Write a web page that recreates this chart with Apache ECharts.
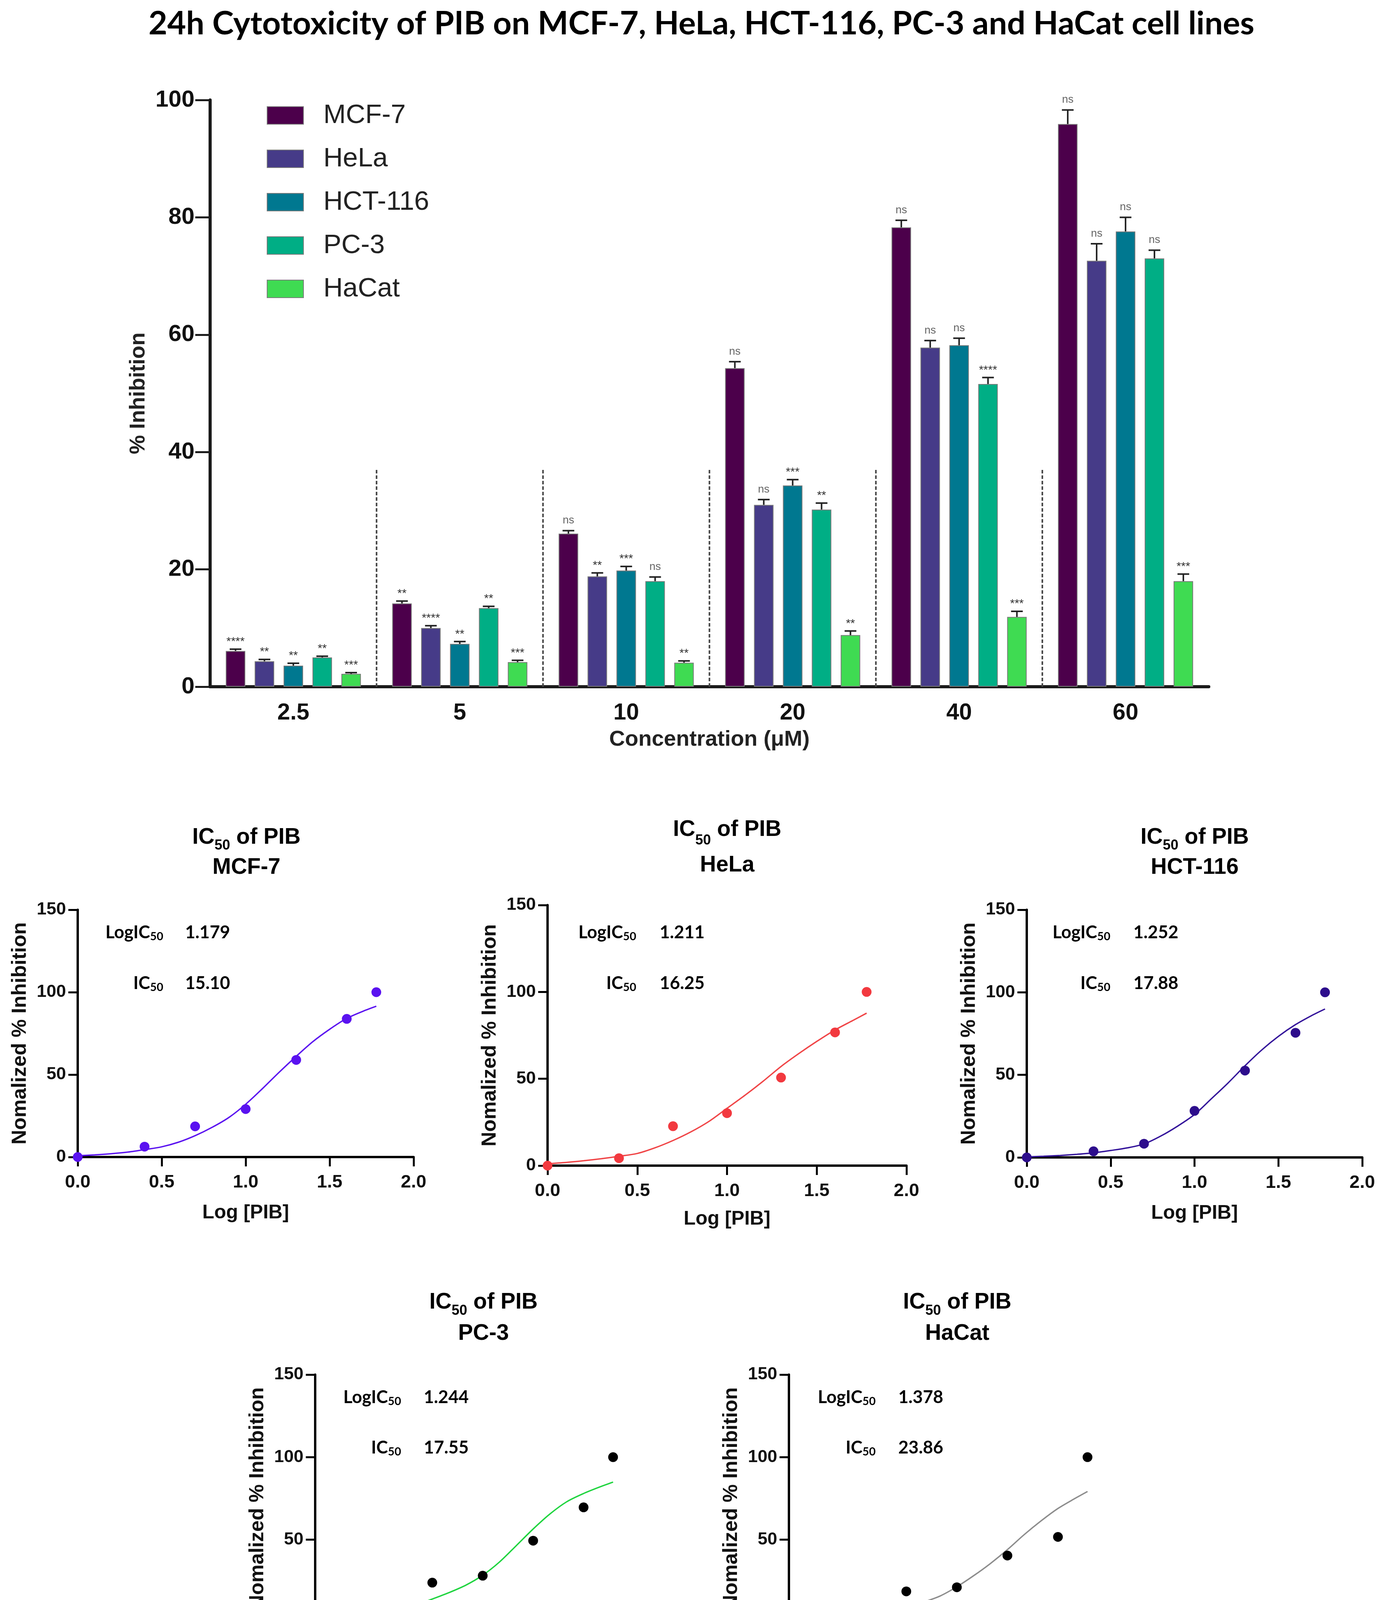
<!DOCTYPE html>
<html>
<head>
<meta charset="utf-8">
<script src="https://cdn.jsdelivr.net/npm/echarts@6/dist/echarts.min.js"></script>
<style>
html,body{margin:0;padding:0;background:#fff;}
#chart{width:3536px;height:4347px;}
</style>
</head>
<body>
<div id="chart"></div>
<script>
// ---------------- DATA ----------------
const categories = ['2.5', '5', '10', '20', '40', '60'];
const cellLines = ['MCF-7', 'HeLa', 'HCT-116', 'PC-3', 'HaCat'];

const mcf7Bars   = [6.1, 14.2, 26.1, 54.3, 78.3, 95.9];
const helaBars   = [4.35, 10.0, 18.8, 31.0, 57.8, 72.6];
const hct116Bars = [3.6, 7.3, 19.8, 34.3, 58.2, 77.6];
const pc3Bars    = [5.0, 13.4, 18.0, 30.2, 51.6, 73.0];
const hacatBars  = [2.2, 4.2, 4.1, 8.8, 11.9, 18.0];

const mcf7Err   = [0.3, 0.4, 0.5, 1.1, 1.2, 2.4];
const helaErr   = [0.3, 0.4, 0.6, 0.9, 1.2, 2.9];
const hct116Err = [0.4, 0.4, 0.7, 1.0, 1.2, 2.4];
const pc3Err    = [0.2, 0.3, 0.7, 1.1, 1.1, 1.4];
const hacatErr  = [0.2, 0.3, 0.3, 0.7, 0.95, 1.2];

const mcf7Sig   = ['****', '**', 'ns', 'ns', 'ns', 'ns'];
const helaSig   = ['**', '****', '**', 'ns', 'ns', 'ns'];
const hct116Sig = ['**', '**', '***', '***', 'ns', 'ns'];
const pc3Sig    = ['**', '**', 'ns', '**', '****', 'ns'];
const hacatSig  = ['***', '***', '**', '**', '***', '***'];

const barYTicks = {min: 0, max: 100, interval: 20};
const separatorPositions = [1, 2, 3, 4, 5];
const separatorTop = 37;

// IC50 panels
const logConc = [0, 0.398, 0.699, 1.0, 1.301, 1.602, 1.778];
const mcf7Norm   = [0, 6.3, 18.6, 29.1, 58.9, 83.8, 100];
const helaNorm   = [0, 4.3, 22.7, 30.2, 50.7, 76.7, 100];
const hct116Norm = [0, 3.7, 8.3, 28.2, 52.6, 75.5, 100];
const pc3Norm    = [0, 5.3, 24.0, 28.2, 49.4, 69.6, 100];
const hacatNorm  = [0, 7.5, 18.7, 21.2, 40.4, 51.7, 100];

const fitX = [0, 0.1, 0.2, 0.3, 0.4, 0.5, 0.6, 0.7, 0.8, 0.9, 1.0, 1.1, 1.2, 1.3, 1.4, 1.5, 1.6, 1.7, 1.778];
const mcf7Fit   = [0.8, 1.3, 2.0, 3.0, 4.5, 6.2, 9.0, 13.0, 18.0, 24.0, 32.0, 41.5, 51.5, 61.0, 70.0, 77.5, 84.0, 88.5, 91.5];
const helaFit   = [1.1, 1.8, 2.8, 4.0, 5.4, 7.0, 10.3, 14.5, 19.5, 25.5, 33.0, 40.5, 48.5, 57.0, 64.5, 71.5, 78.0, 83.5, 87.8];
const hct116Fit = [0.3, 0.7, 1.2, 1.9, 2.8, 4.2, 5.8, 8.2, 13.0, 19.0, 26.0, 35.5, 45.1, 55.4, 65.0, 73.3, 80.3, 86.0, 89.9];
const pc3Fit    = [1.7, 2.4, 3.3, 4.4, 5.8, 7.5, 10.5, 14.1, 18.0, 22.5, 28.5, 36.5, 46.4, 56.4, 65.5, 72.9, 77.9, 82.0, 84.9];
const hacatFit  = [0.5, 0.9, 1.5, 2.3, 3.3, 4.8, 6.7, 9.1, 12.2, 15.9, 21.5, 28.2, 35.6, 43.9, 53.0, 61.3, 68.8, 74.8, 79.2];

const logIC50Text = ['1.179', '1.211', '1.252', '1.244', '1.378'];
const ic50Text    = ['15.10', '16.25', '17.88', '17.55', '23.86'];

const icXTicks = {min: 0, max: 2, interval: 0.5};
const icYTicks = {min: 0, max: 150, interval: 50};

// ---------------- STYLE / LAYOUT ----------------
const SANS = 'Liberation Sans';
const CAL = 'Lato';
const barColors = ['#4c004b', '#463b88', '#007890', '#00ae85', '#3fdb52'];
const BAR_W = 50;
const BAR_GAP = 24;

const barValues = [mcf7Bars, helaBars, hct116Bars, pc3Bars, hacatBars];
const barErrs = [mcf7Err, helaErr, hct116Err, pc3Err, hacatErr];
const barSigs = [mcf7Sig, helaSig, hct116Sig, pc3Sig, hacatSig];

const panels = [
  {name: 'MCF-7', pts: mcf7Norm, fit: mcf7Fit, line: '#5a12f0', dot: '#5a12f0',
   grid: {left: 199, top: 2329, width: 860, height: 633}, titleX: 631, titleY: 2183, titleLH: 77,
   annRight: 418, annVal: 474, annY1: 2387, annY2: 2517, xNameGap: 118},
  {name: 'HeLa', pts: helaNorm, fit: helaFit, line: '#f04446', dot: '#f2393f',
   grid: {left: 1402, top: 2317, width: 919, height: 667}, titleX: 1862, titleY: 2170, titleLH: 91,
   annRight: 1629, annVal: 1689, annY1: 2387, annY2: 2517, xNameGap: 112},
  {name: 'HCT-116', pts: hct116Norm, fit: hct116Fit, line: '#33139a', dot: '#2d0d8c',
   grid: {left: 2629, top: 2329, width: 859, height: 634}, titleX: 3059, titleY: 2183, titleLH: 77,
   annRight: 2843, annVal: 2902, annY1: 2387, annY2: 2517, xNameGap: 118},
  {name: 'PC-3', pts: pc3Norm, fit: pc3Fit, line: '#1ed43e', dot: '#000000',
   grid: {left: 807, top: 3519, width: 858, height: 634}, titleX: 1238, titleY: 3374, titleLH: 80,
   annRight: 1027, annVal: 1085, annY1: 3577, annY2: 3706, xNameGap: 118},
  {name: 'HaCat', pts: hacatNorm, fit: hacatFit, line: '#8c8c8c', dot: '#000000',
   grid: {left: 2020, top: 3519, width: 860, height: 634}, titleX: 2451, titleY: 3374, titleLH: 80,
   annRight: 2242, annVal: 2300, annY1: 3577, annY2: 3706, xNameGap: 118}
];

const grids = [{left: 538, top: 256, width: 2557, height: 1502}];
const xAxes = [
  {type: 'category', gridIndex: 0, data: categories,
   axisLine: {lineStyle: {color: '#1a1a1a', width: 8}},
   axisTick: {alignWithLabel: true, length: 30, lineStyle: {width: 5, color: '#1a1a1a'}},
   axisLabel: {fontFamily: SANS, fontWeight: 'bold', fontSize: 59, color: '#111', margin: 38},
   name: 'Concentration (\u03bcM)', nameLocation: 'middle', nameGap: 108,
   nameTextStyle: {fontFamily: SANS, fontWeight: 'bold', fontSize: 56, color: '#222'}},
  {type: 'value', gridIndex: 0, min: 0, max: 6, show: false}
];
const yAxes = [
  {type: 'value', gridIndex: 0, min: barYTicks.min, max: barYTicks.max, interval: barYTicks.interval,
   splitLine: {show: false},
   axisLine: {show: true, lineStyle: {color: '#1a1a1a', width: 8}},
   axisTick: {show: true, length: 38, lineStyle: {width: 5, color: '#1a1a1a'}},
   axisLabel: {fontFamily: SANS, fontWeight: 'bold', fontSize: 60, color: '#111', margin: 40},
   name: '% Inhibition', nameLocation: 'middle', nameGap: 156,
   nameTextStyle: {fontFamily: SANS, fontWeight: 'bold', fontSize: 55, color: '#222'}}
];

const series = [];
cellLines.forEach((name, s) => {
  series.push({
    name: name, type: 'bar', xAxisIndex: 0, yAxisIndex: 0,
    data: barValues[s], barWidth: BAR_W, barGap: (BAR_GAP / BAR_W * 100) + '%',
    itemStyle: {color: barColors[s], borderColor: '#7a7a7a', borderWidth: 2},
    z: 2
  });
});
cellLines.forEach((name, s) => {
  series.push({
    type: 'custom', xAxisIndex: 0, yAxisIndex: 0, z: 5, silent: true,
    data: barValues[s].map((v, i) => [i, v, barErrs[s][i]]),
    renderItem: function (params, api) {
      const i = api.value(0), v = api.value(1), e = api.value(2);
      const base = api.coord([i, v]);
      const top = api.coord([i, v + e]);
      const off = (s - 2) * (BAR_W + BAR_GAP);
      const x = base[0] + off;
      const sig = barSigs[s][params.dataIndex];
      const isNs = sig === 'ns';
      return {type: 'group', children: [
        {type: 'line', shape: {x1: x, y1: base[1], x2: x, y2: top[1]}, style: {stroke: '#222', lineWidth: 4}},
        {type: 'line', shape: {x1: x - 15, y1: top[1], x2: x + 15, y2: top[1]}, style: {stroke: '#222', lineWidth: 4}},
        {type: 'text', style: {text: sig, x: x, y: top[1] - (isNs ? 12 : 4), align: 'center', verticalAlign: 'bottom',
          fontFamily: SANS, fontSize: isNs ? 28 : 30, fill: isNs ? '#666' : '#333'}}
      ]};
    }
  });
});
series.push({
  type: 'custom', xAxisIndex: 1, yAxisIndex: 0, z: 1, silent: true,
  data: separatorPositions.map(p => [p, separatorTop]),
  renderItem: function (params, api) {
    const p0 = api.coord([api.value(0), 0]);
    const p1 = api.coord([api.value(0), api.value(1)]);
    return {type: 'line', shape: {x1: p0[0], y1: p0[1], x2: p1[0], y2: p1[1]},
      style: {stroke: '#444', lineWidth: 4, lineDash: [9, 5]}};
  }
});

const graphics = [{
  type: 'text', x: 1796, y: 61,
  style: {text: '24h Cytotoxicity of PIB on MCF-7, HeLa, HCT-116, PC-3 and HaCat cell lines',
    fontFamily: CAL, fontWeight: 'bold', fontSize: 83, fill: '#000', align: 'center', verticalAlign: 'middle'}
}];

panels.forEach((p, k) => {
  const g = k + 1;
  grids.push(p.grid);
  xAxes.push({type: 'value', gridIndex: g, min: icXTicks.min, max: icXTicks.max, interval: icXTicks.interval,
    splitLine: {show: false},
    axisLine: {onZero: false, lineStyle: {color: '#000', width: 6}},
    axisTick: {length: 24, lineStyle: {width: 5, color: '#000'}},
    axisLabel: {fontFamily: SANS, fontWeight: 'bold', fontSize: 47, color: '#111', margin: 42,
      formatter: v => v.toFixed(1)},
    name: 'Log [PIB]', nameLocation: 'middle', nameGap: p.xNameGap,
    nameTextStyle: {fontFamily: SANS, fontWeight: 'bold', fontSize: 50, color: '#111'}});
  yAxes.push({type: 'value', gridIndex: g, min: icYTicks.min, max: icYTicks.max, interval: icYTicks.interval,
    splitLine: {show: false},
    axisLine: {show: true, lineStyle: {color: '#000', width: 6}},
    axisTick: {show: true, length: 24, lineStyle: {width: 5, color: '#000'}},
    axisLabel: {fontFamily: SANS, fontWeight: 'bold', fontSize: 45, color: '#111', margin: 30},
    name: 'Nomalized % Inhibition', nameLocation: 'middle', nameGap: 121,
    nameTextStyle: {fontFamily: SANS, fontWeight: 'bold', fontSize: 52, color: '#111'}});
  series.push({type: 'line', xAxisIndex: g + 1, yAxisIndex: g, data: fitX.map((x, i) => [x, p.fit[i]]),
    smooth: 0.3, showSymbol: false, symbol: 'none', silent: true,
    lineStyle: {color: p.line, width: 3.5}, z: 3});
  series.push({type: 'scatter', xAxisIndex: g + 1, yAxisIndex: g, data: logConc.map((x, i) => [x, p.pts[i]]),
    symbolSize: 25, itemStyle: {color: p.dot, opacity: 1}, silent: true, z: 4});

  graphics.push({type: 'text', x: p.titleX, y: p.titleY,
    style: {text: '{a|IC}{s|50}{a| of PIB}\n{a|' + p.name + '}', align: 'center', verticalAlign: 'middle',
      rich: {a: {fontFamily: SANS, fontWeight: 'bold', fontSize: 57, lineHeight: p.titleLH, fill: '#000'},
             s: {fontFamily: SANS, fontWeight: 'bold', fontSize: 36, lineHeight: 40, verticalAlign: 'bottom', fill: '#000'}}}});
  const ann = {a: {fontFamily: CAL, fontWeight: 'bold', fontSize: 45, fill: '#000', lineHeight: 50},
               s: {fontFamily: CAL, fontWeight: 'bold', fontSize: 29, fill: '#000', lineHeight: 30, verticalAlign: 'bottom'}};
  graphics.push({type: 'text', x: p.annRight, y: p.annY1,
    style: {text: '{a|LogIC}{s|50}', align: 'right', verticalAlign: 'middle', rich: ann}});
  graphics.push({type: 'text', x: p.annVal, y: p.annY1,
    style: {text: '{a|' + logIC50Text[k] + '}', align: 'left', verticalAlign: 'middle', rich: ann}});
  graphics.push({type: 'text', x: p.annRight, y: p.annY2,
    style: {text: '{a|IC}{s|50}', align: 'right', verticalAlign: 'middle', rich: ann}});
  graphics.push({type: 'text', x: p.annVal, y: p.annY2,
    style: {text: '{a|' + ic50Text[k] + '}', align: 'left', verticalAlign: 'middle', rich: ann}});
});

const chart = echarts.init(document.getElementById('chart'), null, {renderer: 'canvas'});
chart.setOption({
  backgroundColor: '#ffffff',
  animation: false,
  legend: {
    data: cellLines, orient: 'vertical', left: 678, top: 256,
    itemWidth: 93, itemHeight: 45, itemGap: 42, icon: 'rect',
    textStyle: {fontFamily: SANS, fontSize: 69, color: '#222', lineHeight: 45, padding: [0, 0, 0, 46]}
  },
  grid: grids,
  xAxis: xAxes,
  yAxis: yAxes,
  series: series,
  graphic: graphics
});
</script>
</body>
</html>
